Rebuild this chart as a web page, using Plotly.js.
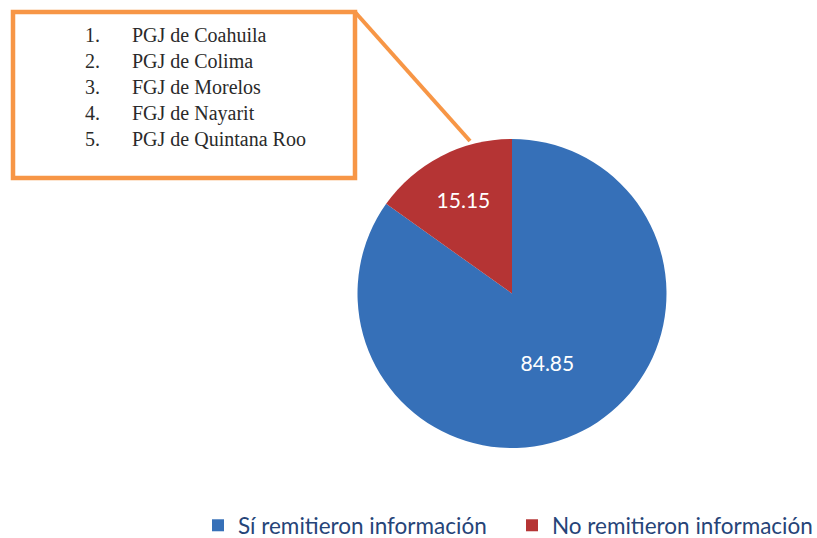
<!DOCTYPE html>
<html>
<head>
<meta charset="utf-8">
<script src="https://cdn.plot.ly/plotly-3.0.1.min.js"></script>
<style>
html,body{margin:0;padding:0;background:#fff;}
#chart{width:817px;height:538px;}
</style>
</head>
<body>
<div id="chart"></div>
<script>
var categories = ["Sí remitieron información", "No remitieron información"];
var values = [84.85, 15.15];
var sliceColors = ["#3670B8", "#B53434"];
var listNumbers = ["1.", "2.", "3.", "4.", "5."];
var listNames = ["PGJ de Coahuila", "PGJ de Colima", "FGJ de Morelos", "FGJ de Nayarit", "PGJ de Quintana Roo"];

var W = 817, H = 538;
var orange = "#F79646";

var trace = {
  type: "pie",
  labels: categories,
  values: values,
  sort: false,
  direction: "clockwise",
  rotation: 0,
  marker: {colors: sliceColors, line: {width: 0}},
  textinfo: "value",
  textposition: "inside",
  insidetextorientation: "horizontal",
  insidetextfont: {family: "Lato, 'Open Sans', sans-serif", size: 21, color: "#ffffff"},
  hoverinfo: "label+value",
  domain: {x: [357 / W, 667 / W], y: [(H - 448) / H, (H - 139) / H]}
};

var serif = {family: "'Liberation Serif', 'DejaVu Serif', serif", size: 20, color: "#2a2a2a", weight: 400};

var annotations = [
  {
    xref: "paper", yref: "paper", x: 83 / W, y: (H - 22) / H,
    xanchor: "left", yanchor: "top", align: "left", showarrow: false,
    text: listNumbers.join("<br>"), font: serif
  },
  {
    xref: "paper", yref: "paper", x: 130 / W, y: (H - 22) / H,
    xanchor: "left", yanchor: "top", align: "left", showarrow: false,
    text: listNames.join("<br>"), font: serif
  }
];

var shapes = [
  {type: "rect", xref: "paper", yref: "paper",
   x0: 13 / W, x1: 355 / W, y0: (H - 178) / H, y1: (H - 12) / H,
   line: {color: orange, width: 4.5}, fillcolor: "rgba(0,0,0,0)"},
  {type: "line", xref: "paper", yref: "paper",
   x0: 355 / W, y0: (H - 12) / H, x1: 470 / W, y1: (H - 141) / H,
   line: {color: orange, width: 4}}
];

var layout = {
  width: W, height: H,
  margin: {l: 0, r: 0, t: 0, b: 0, autoexpand: false},
  paper_bgcolor: "#ffffff",
  showlegend: true,
  legend: {
    orientation: "h", x: 198 / W, xanchor: "left", y: -0.017, yanchor: "bottom",
    entrywidth: 269, entrywidthmode: "pixels",
    font: {family: "Lato, 'Open Sans', sans-serif", size: 22.5, color: "#264478"},
    traceorder: "normal"
  },
  annotations: annotations,
  shapes: shapes
};

Plotly.newPlot("chart", [trace], layout, {displayModeBar: false, staticPlot: true});
</script>
</body>
</html>
